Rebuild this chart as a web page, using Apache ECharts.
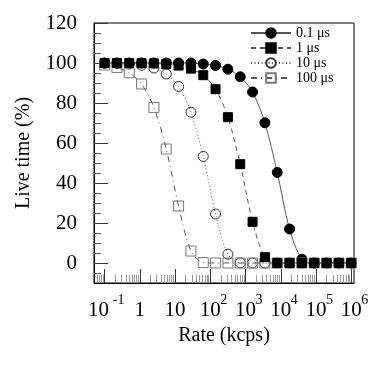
<!DOCTYPE html>
<html><head><meta charset="utf-8">
<script src="https://cdn.jsdelivr.net/npm/echarts@6/dist/echarts.min.js"></script>
<style>html,body{margin:0;padding:0;background:#fff}#c{width:378px;height:378px}</style>
</head><body><div id="c"></div>
<script>
const rates = [0.1, 0.224, 0.501, 1.12, 2.51, 5.62, 12.6, 28.2, 63.1, 141, 316, 708, 1585, 3548, 7943, 17783, 39811, 89125, 199526, 446684, 1000000];
const live01 = [100, 100, 100, 100, 100, 100, 100, 100, 99.5, 98.8, 96.9, 93.1, 85.5, 70.1, 45.3, 17, 1.9, 0, 0, 0, 0];
const live1 = [100, 100, 100, 99.9, 99.8, 99.4, 98.7, 97.2, 93.9, 86.9, 72.9, 49.4, 20.6, 2.9, 0, 0, 0, 0, 0, 0, 0];
const live10 = [99.9, 99.8, 99.5, 98.9, 97.5, 94.5, 88.3, 75.4, 53.3, 24.5, 4.4, 0.1, 0, 0, 0, 0, 0, 0, 0, 0, 0];
const live100 = [99, 97.7, 95.1, 89.5, 77.8, 57, 28.5, 6, 0.2, 0, 0, 0, 0, 0, 0, 0, 0, 0, 0, 0, 0];
const seriesNames = ['0.1 \u03bcs', '1 \u03bcs', '10 \u03bcs', '100 \u03bcs'];
const xMajorTicks = [0.1, 1, 10, 100, 1000, 10000, 100000, 1000000];
const xMinorMultipliers = [2, 3, 4, 5, 6, 7, 8, 9];
const xMinorDecades = [0.01, 0.1, 1, 10, 100, 1000, 10000, 100000];
const yMajorTicks = [0, 20, 40, 60, 80, 100, 120];
const yMinorTicks = [-5, 5, 10, 15, 25, 30, 35, 45, 50, 55, 65, 70, 75, 85, 90, 95, 105, 110, 115];

const X_MIN = 0.05, X_MAX = 1.2e6;
const xMinorTicks = [];
xMinorDecades.forEach(d => xMinorMultipliers.forEach(m => {
  const v = +(d * m).toPrecision(6);
  if (v > X_MIN && v < X_MAX) xMinorTicks.push(v);
}));

const SERIF = 'Liberation Serif';
const chart = echarts.init(document.getElementById('c'), null, {renderer: 'canvas'});

function xLabel(v) {
  const e = Math.round(Math.log10(v));
  if (e === 0) return '{b|1}';
  if (e === 1) return '{b|10}';
  if (e < 0) return '{p| }{b|10}{sn|' + e + '}';
  return '{p| }{b|10}{s|' + e + '}';
}

const lineColor = '#555';
const mk = (name, data, symbol, size, fill, border, lineType, z) => ({
  name, type: 'line', xAxisIndex: 0, yAxisIndex: 0,
  data: rates.map((r, i) => [r, data[i]]),
  symbol, symbolSize: size, showSymbol: true, smooth: 0.3, z,
  itemStyle: {color: fill, borderColor: border, borderWidth: 1},
  lineStyle: {color: lineColor, width: 1, type: lineType},
  emphasis: {disabled: true}
});

chart.setOption({
  animation: false,
  backgroundColor: '#fff',
  grid: {left: 94, top: 23, width: 260, height: 260, show: true, borderColor: '#000', borderWidth: 1, backgroundColor: 'transparent'},
  legend: {
    left: 250, top: 26, padding: 0, orient: 'vertical', itemWidth: 40, itemHeight: 12, itemGap: 1,
    textStyle: {fontFamily: SERIF, fontSize: 14, color: '#000', lineHeight: 12},
    data: seriesNames
  },
  xAxis: [
    {
      type: 'log', logBase: 10, min: X_MIN, max: X_MAX, position: 'bottom',
      name: 'Rate (kcps)', nameLocation: 'middle', nameGap: 34,
      nameTextStyle: {fontFamily: SERIF, fontSize: 20, color: '#000'},
      axisLine: {show: true, onZero: false, lineStyle: {color: '#000', width: 1}},
      axisTick: {show: true, inside: true, length: 14, lineStyle: {color: '#333'}, customValues: xMajorTicks},
      axisLabel: {
        customValues: xMajorTicks, margin: 10, formatter: xLabel, hideOverlap: false,
        showMinLabel: true, showMaxLabel: true,
        rich: {
          b: {fontFamily: SERIF, fontSize: 21, lineHeight: 28, verticalAlign: 'bottom', color: '#000'},
          s: {fontFamily: SERIF, fontSize: 14, lineHeight: 12, width: 0, verticalAlign: 'top', padding: [0, 0, 0, 3], color: '#000'},
          sn: {fontFamily: SERIF, fontSize: 14, lineHeight: 12, width: 11, verticalAlign: 'top', padding: [0, 0, 0, 4], color: '#000'},
          p: {width: 3, fontSize: 14}
        }
      },
      splitLine: {show: false}, minorTick: {show: false}
    },
    {
      type: 'log', logBase: 10, min: X_MIN, max: X_MAX, position: 'bottom',
      axisLine: {show: false, onZero: false},
      axisTick: {show: true, inside: true, length: 8, lineStyle: {color: '#999'}, customValues: xMinorTicks},
      axisLabel: {show: false}, splitLine: {show: false}
    }
  ],
  yAxis: [
    {
      type: 'value', min: -10, max: 120, position: 'left',
      name: 'Live time (%)', nameLocation: 'middle', nameGap: 60,
      nameTextStyle: {fontFamily: SERIF, fontSize: 20, color: '#000'},
      axisLine: {show: true, onZero: false, lineStyle: {color: '#000', width: 1}},
      axisTick: {show: true, inside: true, length: 14, lineStyle: {color: '#333'}, customValues: yMajorTicks},
      axisLabel: {customValues: yMajorTicks, margin: 17, fontFamily: SERIF, fontSize: 21, color: '#000'},
      splitLine: {show: false}
    },
    {
      type: 'value', min: -10, max: 120, position: 'left',
      axisLine: {show: false, onZero: false},
      axisTick: {show: true, inside: true, length: 7, lineStyle: {color: '#555'}, customValues: yMinorTicks},
      axisLabel: {show: false}, splitLine: {show: false}
    }
  ],
  series: [
    mk(seriesNames[0], live01, 'circle', 10, '#000', '#000', 'solid', 2),
    mk(seriesNames[1], live1, 'rect', 9, '#000', '#000', [5, 4], 5),
    mk(seriesNames[2], live10, 'circle', 10, 'rgba(0,0,0,0)', '#333', [1, 2.5], 3),
    mk(seriesNames[3], live100, 'rect', 10, 'rgba(0,0,0,0)', '#777', [6, 4, 1, 4], 4)
  ]
});
</script>
</body></html>
